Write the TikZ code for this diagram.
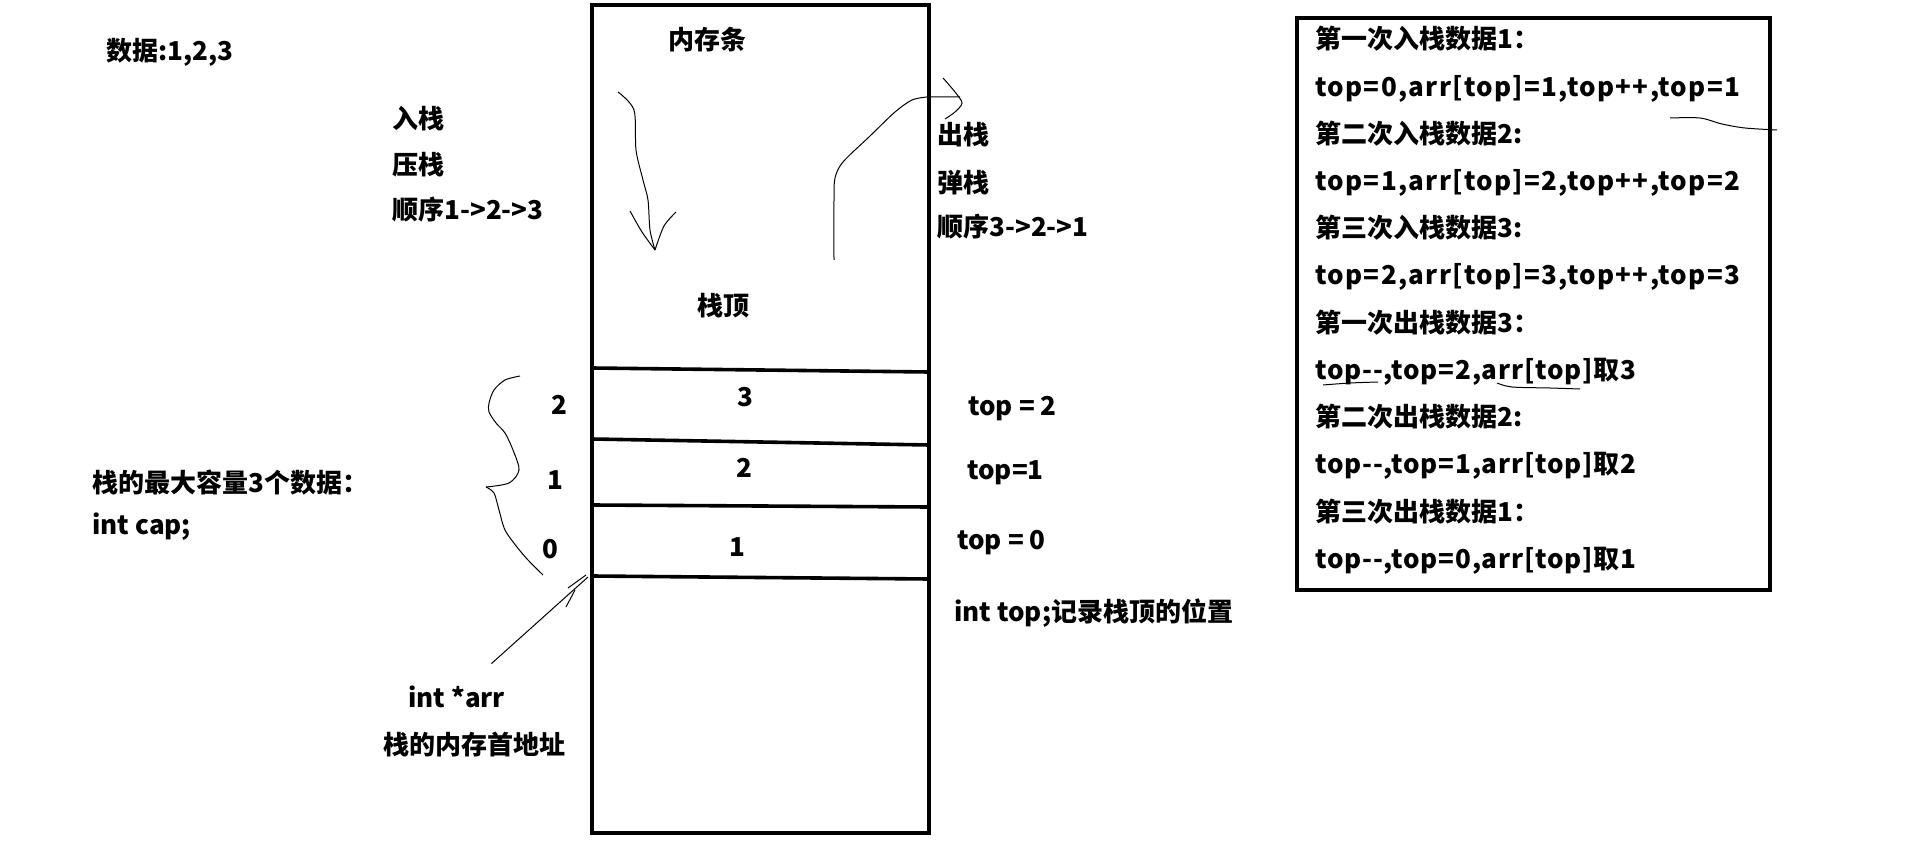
\documentclass[tikz,border=0pt]{standalone}
\usepackage{fontspec}
\setmainfont{Noto Sans CJK SC}
\usetikzlibrary{positioning,calc}

\begin{document}
\begin{tikzpicture}[
  x=0.5pt, y=-0.5pt,
  txt/.style={
    font=\fontsize{13}{15}\selectfont\bfseries,
    inner sep=0pt,
    anchor=west
  },
  row/.style={
    txt,
    text width=230pt,
    align=left,
    text height=9pt,
    text depth=3pt
  },
  code/.style={
    row,
    font=\fontsize{13}{15}\selectfont\bfseries\addfontfeature{LetterSpace=5}
  },
  popcode/.style={
    row,
    font=\fontsize{13}{15}\selectfont\bfseries\addfontfeature{LetterSpace=3}
  },
  frame/.style={line width=2pt},
  cellline/.style={line width=1.8pt},
  pen/.style={line width=0.5pt}
]
\useasboundingbox (0,0) rectangle (1913,856);

% memory strip
\draw[frame] (592,5) rectangle (929,833);
\draw[cellline] (592,368) -- (929,372);
\draw[cellline] (592,439) -- (929,445);
\draw[cellline] (592,505) -- (929,507);
\draw[cellline] (592,576) -- (929,579);
\coordinate (base) at (588,577);

\node[txt] (mem) at (668,40) {内存条};
\node[txt] (stop) at (697,306) {栈顶};
\node[txt, anchor=center] (c3) at (745,397) {3};
\node[txt, anchor=center] (c2) at (744,468) {2};
\node[txt, anchor=center] (c1) at (737,547) {1};

\node[txt, anchor=center] (i2) at (559,405) {2};
\node[txt, anchor=center] (i1) at (555,480) {1};
\node[txt, anchor=center] (i0) at (550,549) {0};

\node[txt] (t2) at (968,409) {top = 2};
\node[txt] (t1) at (967,473) {top=1};
\node[txt] (t0) at (957,543) {top = 0};
\node[txt] (itop) at (954,613) {int top;记录栈顶的位置};

\node[txt] (data) at (106,52) {数据:1,2,3};
\node[txt] (in1) at (392,119) {入栈};
\node[txt, below=23pt of in1.west, anchor=west] (in2) {压栈};
\node[txt, below=22.5pt of in2.west, anchor=west] (in3) {顺序1->2->3};
\node[txt] (out1) at (937,135) {出栈};
\node[txt, below=24pt of out1.west, anchor=west] (out2) {弹栈};
\node[txt, below=22pt of out2.west, anchor=west] (out3) {顺序3->2->1};

\node[txt] (capa) at (92,483) {栈的最大容量3个数据：};
\node[txt, below=22pt of capa.west, anchor=west] (capb) {int cap;};

\node[txt] (arr) at (408,697) {int *arr};
\node[txt, below=24pt of arr.west, anchor=west, xshift=-12.5pt] (addr) {栈的内存首地址};

% push / pop strokes
\draw[pen] plot[smooth] coordinates {(618,92) (634,110) (636,150) (643,180) (648,200) (650,230) (655,250)};
\draw[pen] plot[smooth] coordinates {(630,211) (642,232) (655,250)};
\draw[pen] plot[smooth] coordinates {(676,212) (664,226) (655,250)};
\draw[pen] plot[smooth] coordinates {(834,260) (834,200) (835,178) (843,162) (870,136) (895,112) (912,100) (927,97)} -- (960,97);
\draw[pen] plot[smooth] coordinates {(943,78) (955,92) (962,103) (955,112) (945,119)};

% brace
\draw[pen] plot[smooth] coordinates {(520,376) (505,380) (494,390) (489,403) (489,412) (496,423) (505,433) (513,450) (519,470) (509,483) (486,487)};
\draw[pen] plot[smooth] coordinates {(486,487) (494,493) (499,510) (505,530) (517,547) (528,560) (543,575)};

% base address
\draw[pen] ([shift={(-14,-22)}]arr.north east) -- (base);
\draw[pen] (568,588) -- (586,575);
\draw[pen] (566,607) -- (575,590);

% log box
\draw[frame] (1297,18) rectangle (1770,590);
\node[row] (b1) at (1315,43) {第一次入栈数据1：};
\node[code, below=11.2pt of b1] (b2) {top=0,arr[top]=1,top++,top=1};
\node[row, below=11.2pt of b2] (b3) {第二次入栈数据2:};
\node[code, below=11.2pt of b3] (b4) {top=1,arr[top]=2,top++,top=2};
\node[row, below=11.2pt of b4] (b5) {第三次入栈数据3:};
\node[code, below=11.2pt of b5] (b6) {top=2,arr[top]=3,top++,top=3};
\node[row, below=11.2pt of b6] (b7) {第一次出栈数据3：};
\node[popcode, below=11.2pt of b7] (b8) {top-{}-,top=2,arr[top]取3};
\node[row, below=11.2pt of b8] (b9) {第二次出栈数据2:};
\node[popcode, below=11.2pt of b9] (b10) {top-{}-,top=1,arr[top]取2};
\node[row, below=11.2pt of b10] (b11) {第三次出栈数据1：};
\node[popcode, below=11.2pt of b11] (b12) {top-{}-,top=0,arr[top]取1};

\draw[pen] plot[smooth] coordinates {(1670,118) (1700,118) (1722,124) (1745,128) (1777,130)};
\draw[pen] plot[smooth] coordinates {(1323,385) (1350,383) (1378,382)};
\draw[pen] plot[smooth] coordinates {(1497,383) (1512,387) (1550,388) (1580,389)};

\end{tikzpicture}
\end{document}
